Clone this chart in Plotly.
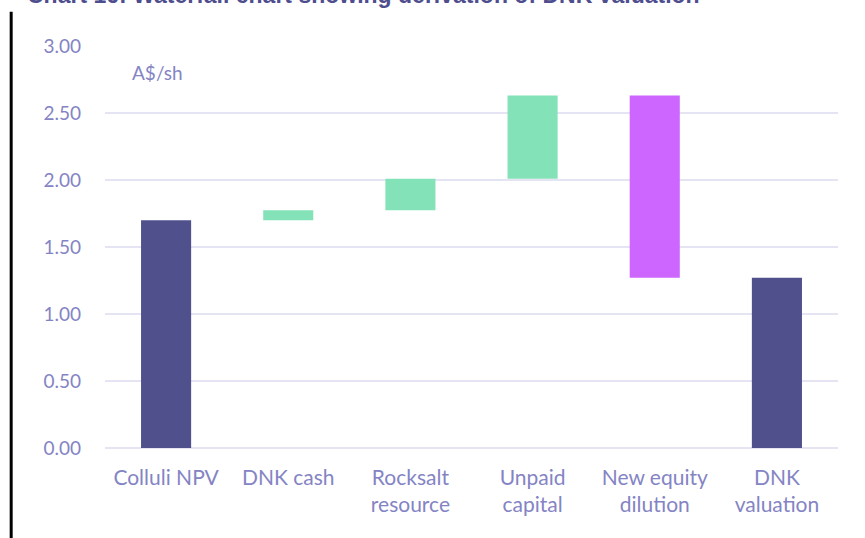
import plotly.graph_objects as go

# data (A$/sh)
categories = ["Colluli NPV", "DNK cash", "Rocksalt<br>resource", "Unpaid<br>capital",
              "New equity<br>dilution", "DNK<br>valuation"]
measures = ["absolute", "relative", "relative", "relative", "relative", "total"]
values = [1.70, 0.075, 0.235, 0.62, -1.36, 0]
tick_vals = [0, 0.5, 1.0, 1.5, 2.0, 2.5, 3.0]

label_col = "#8484C4"
font_name = "Lato"

fig = go.Figure(go.Waterfall(
    x=categories,
    y=values,
    measure=measures,
    increasing=dict(marker=dict(color="#84E2B8")),
    decreasing=dict(marker=dict(color="#CC66FF")),
    totals=dict(marker=dict(color="#50508C")),
    connector=dict(visible=False),
    hoverinfo="x+y",
))

fig.update_layout(
    width=865, height=538,
    margin=dict(l=105, r=27, t=46, b=90),
    plot_bgcolor="white", paper_bgcolor="white",
    waterfallgap=0.59,
    showlegend=False,
    font=dict(family=font_name, size=19, color=label_col),
    xaxis=dict(showgrid=False, ticks="", showline=False, ticklabelstandoff=15,
               tickfont=dict(size=21, color=label_col)),
    yaxis=dict(range=[0, 3], tickvals=tick_vals, tickformat=".2f",
               showgrid=True, gridcolor="#E4E4F2", gridwidth=2,
               zeroline=True, zerolinecolor="#E4E4F2", zerolinewidth=2,
               ticklabelstandoff=23, tickfont=dict(size=19, color=label_col)),
)

# unit label inside the plot
fig.add_annotation(text="A$/sh", xref="paper", yref="paper", x=0.034, y=0.933,
                   xanchor="left", yanchor="middle", showarrow=False,
                   font=dict(family=font_name, size=19, color=label_col))

# title, cut off by the top of the picture
fig.add_annotation(text="<b>Chart 16: Waterfall chart showing derivation of DNK valuation</b>",
                   xref="paper", yref="paper", x=-0.109, y=1.127,
                   xanchor="left", yanchor="middle", showarrow=False,
                   font=dict(family="Liberation Sans", size=23, color="#4E4E8E"))

# black page border on the left
fig.add_shape(type="line", xref="paper", yref="paper", x0=-0.128, x1=-0.128, y0=1.085, y1=-0.25,
              line=dict(color="black", width=3))

# no body margin so the figure sits at the page corner
fig.write_html("out.html", config=dict(displayModeBar=False),
               post_script="document.body.style.margin='0';")
